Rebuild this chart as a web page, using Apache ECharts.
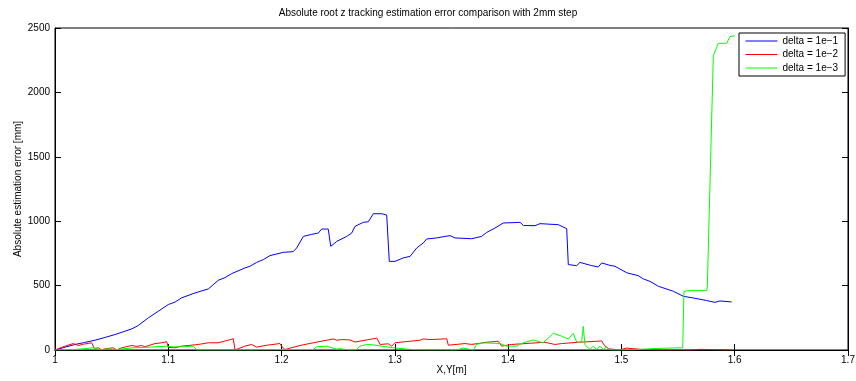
<!DOCTYPE html>
<html>
<head>
<meta charset="utf-8">
<script src="https://cdn.jsdelivr.net/npm/echarts@6/dist/echarts.min.js"></script>
<style>
html,body{margin:0;padding:0;background:#fff;}
#c{width:856px;height:381px;}
</style>
</head>
<body>
<div id="c"></div>
<script>
const titleText = "Absolute root z tracking estimation error comparison with 2mm step";
const xName = "X,Y[m]";
const yName = "Absolute estimation error [mm]";
const seriesNames = ["delta = 1e\u22121", "delta = 1e\u22122", "delta = 1e\u22123"];
const xTicks = [1, 1.1, 1.2, 1.3, 1.4, 1.5, 1.6, 1.7];
const yTicks = [0, 500, 1000, 1500, 2000, 2500];

const blueX = [1.0, 1.009, 1.0177, 1.026, 1.0353, 1.044, 1.053, 1.0618, 1.068, 1.0735, 1.0824, 1.0912, 1.1, 1.106, 1.1118, 1.1236, 1.1353, 1.1441, 1.15, 1.156, 1.1677, 1.1721, 1.178, 1.1839, 1.1898, 1.2015, 1.2103, 1.2133, 1.2192, 1.2266, 1.2324, 1.2354, 1.2412, 1.2434, 1.2487, 1.2575, 1.2619, 1.2648, 1.2721, 1.2766, 1.281, 1.2884, 1.2928, 1.2951, 1.3001, 1.3074, 1.3134, 1.3193, 1.3251, 1.3281, 1.3369, 1.3443, 1.3487, 1.3531, 1.3678, 1.3766, 1.3811, 1.3884, 1.3957, 1.4105, 1.4134, 1.4237, 1.4281, 1.4443, 1.4517, 1.4531, 1.4605, 1.462, 1.4634, 1.4737, 1.4796, 1.4826, 1.4899, 1.4943, 1.5046, 1.5149, 1.5193, 1.5252, 1.5325, 1.5458, 1.5546, 1.5634, 1.5752, 1.5826, 1.587, 1.5973];
const blueY = [0, 22, 43, 58, 76, 97, 120, 146, 165, 190, 250, 301, 353, 372, 405, 443, 474, 541, 562, 593, 637, 650, 680, 702, 733, 758, 764, 792, 882, 898, 908, 939, 939, 805, 843, 882, 908, 960, 991, 996, 1058, 1058, 1048, 688, 688, 715, 727, 792, 831, 862, 870, 882, 888, 870, 864, 882, 913, 947, 986, 991, 967, 965, 981, 973, 942, 663, 655, 657, 680, 655, 645, 676, 657, 650, 600, 577, 552, 533, 495, 456, 417, 404, 384, 370, 381, 373];

const redX = [1.0, 1.0088, 1.0162, 1.0206, 1.025, 1.0324, 1.0347, 1.0382, 1.0412, 1.0441, 1.0515, 1.0545, 1.0589, 1.0677, 1.0721, 1.0765, 1.0794, 1.0883, 1.0942, 1.0986, 1.1, 1.1059, 1.1118, 1.1177, 1.1265, 1.1353, 1.1441, 1.1574, 1.1589, 1.1677, 1.1736, 1.175, 1.178, 1.1869, 1.1986, 1.2004, 1.203, 1.2163, 1.228, 1.2457, 1.2487, 1.2531, 1.2604, 1.2648, 1.2841, 1.287, 1.2942, 1.2972, 1.3001, 1.3222, 1.3251, 1.331, 1.3458, 1.3472, 1.362, 1.3678, 1.3811, 1.3913, 1.3943, 1.4031, 1.4325, 1.4413, 1.4473, 1.4619, 1.4826, 1.4846, 1.4884, 1.4973, 1.5046, 1.5164, 1.534, 1.5605, 1.5693, 1.5973];
const redY = [0, 30, 50, 35, 45, 56, 12, 17, 0, 9, 17, 0, 17, 35, 28, 35, 25, 50, 56, 65, 20, 17, 30, 35, 43, 56, 56, 87, 0, 30, 43, 48, 22, 37, 50, 25, 4, 35, 56, 86, 76, 81, 78, 62, 92, 43, 48, 30, 56, 76, 86, 81, 87, 37, 50, 43, 60, 68, 30, 43, 60, 43, 50, 60, 70, 40, 10, 0, 15, 5, 0, 0, 5, 0];

const greenX = [1.0, 1.0177, 1.025, 1.0338, 1.0397, 1.047, 1.0545, 1.0691, 1.0839, 1.0986, 1.103, 1.1133, 1.1221, 1.1251, 1.1471, 1.1589, 1.1898, 1.228, 1.231, 1.2398, 1.2487, 1.2516, 1.2604, 1.2663, 1.2692, 1.2751, 1.281, 1.2884, 1.2986, 1.3163, 1.3546, 1.3604, 1.3692, 1.3722, 1.3781, 1.3928, 1.3987, 1.4075, 1.4134, 1.4222, 1.431, 1.4399, 1.4473, 1.4531, 1.4575, 1.4605, 1.4649, 1.4663, 1.4678, 1.4722, 1.4752, 1.4781, 1.4811, 1.484, 1.487, 1.4899, 1.5105, 1.5311, 1.5517, 1.5541, 1.5552, 1.5634, 1.5752, 1.5758, 1.5811, 1.5826, 1.5855, 1.5929, 1.5958, 1.6];
const greenY = [0, 4, 9, 17, 2, 9, 4, 17, 22, 30, 25, 25, 30, 0, 0, 0, 2, 4, 25, 30, 6, 10, 0, 4, 30, 43, 40, 30, 17, 2, 0, 15, 0, 43, 56, 50, 30, 30, 56, 78, 56, 130, 107, 85, 130, 62, 62, 184, 40, 5, 30, 4, 30, 4, 25, 0, 2, 12, 17, 17, 456, 463, 461, 483, 2285, 2285, 2381, 2381, 2433, 2440];

function zip(xs, ys) { return xs.map((x, i) => [x, ys[i]]); }

const FONT = "Liberation Sans, Arial, Helvetica, sans-serif";
const chart = echarts.init(document.getElementById('c'), null, {renderer: 'canvas'});

const tickStyle = {show: true, inside: true, length: 6, lineStyle: {color: '#000', width: 1}};
const lineStyle = {show: true, lineStyle: {color: '#000', width: 1}};

chart.setOption({
  animation: false,
  backgroundColor: '#fff',
  title: {
    text: titleText, left: 'center', top: 3,
    textStyle: {fontFamily: FONT, fontSize: 10, fontWeight: 'normal', color: '#000'}
  },
  legend: {
    data: seriesNames,
    orient: 'vertical',
    left: 739, top: 33,
    itemWidth: 32, itemHeight: 10, itemGap: 3.5,
    padding: [3, 7, 3, 6],
    borderColor: '#000', borderWidth: 1,
    backgroundColor: '#fff',
    textStyle: {fontFamily: FONT, fontSize: 10, color: '#000'},
    lineStyle: {width: 1},
    itemStyle: {opacity: 0},
    selectedMode: false
  },
  grid: {left: 55, right: 8, top: 28, bottom: 31, show: true, borderColor: '#000', borderWidth: 1, backgroundColor: '#fff', outerBoundsMode: 'none', containLabel: false},
  xAxis: [{
    type: 'value', min: xTicks[0], max: xTicks[xTicks.length - 1], interval: 0.1,
    name: xName, nameLocation: 'middle', nameGap: 15, nameMoveOverlap: false,
    nameTextStyle: {fontFamily: FONT, fontSize: 10, color: '#000'},
    axisLine: lineStyle, axisTick: tickStyle, splitLine: {show: false},
    axisLabel: {fontFamily: FONT, fontSize: 10, color: '#000', margin: 5,
      formatter: v => String(parseFloat(v.toFixed(1)))}
  }, {
    type: 'value', position: 'top', min: xTicks[0], max: xTicks[xTicks.length - 1], interval: 0.1,
    axisLine: lineStyle, axisTick: tickStyle, axisLabel: {show: false}, splitLine: {show: false}
  }],
  yAxis: [{
    type: 'value', min: yTicks[0], max: yTicks[yTicks.length - 1], interval: 500,
    name: yName, nameLocation: 'middle', nameGap: 32, nameMoveOverlap: false,
    nameTextStyle: {fontFamily: FONT, fontSize: 10, color: '#000'},
    axisLine: lineStyle, axisTick: tickStyle, splitLine: {show: false},
    axisLabel: {fontFamily: FONT, fontSize: 10, color: '#000', margin: 5,
      formatter: v => String(Math.round(v))}
  }, {
    type: 'value', position: 'right', min: yTicks[0], max: yTicks[yTicks.length - 1], interval: 500,
    axisLine: lineStyle, axisTick: tickStyle, axisLabel: {show: false}, splitLine: {show: false}
  }],
  series: [
    {name: seriesNames[0], type: 'line', data: zip(blueX, blueY), symbol: 'none', lineStyle: {color: '#0000ff', width: 1}, itemStyle: {color: '#0000ff'}},
    {name: seriesNames[1], type: 'line', data: zip(redX, redY), symbol: 'none', lineStyle: {color: '#ff0000', width: 1}, itemStyle: {color: '#ff0000'}},
    {name: seriesNames[2], type: 'line', data: zip(greenX, greenY), symbol: 'none', lineStyle: {color: '#00ff00', width: 1}, itemStyle: {color: '#00ff00'}}
  ]
});
</script>
</body>
</html>
